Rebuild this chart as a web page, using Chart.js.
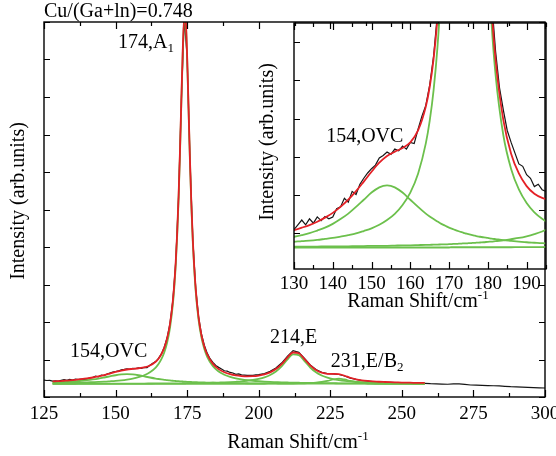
<!DOCTYPE html>
<html>
<head>
<meta charset="utf-8">
<script src="https://cdn.jsdelivr.net/npm/chart.js@4.4.1/dist/chart.umd.min.js"></script>
<style>
html, body { margin: 0; padding: 0; background: #fff; }
#wrap { position: relative; width: 556px; height: 456px; }
canvas { position: absolute; left: 0; top: 0; }
</style>
</head>
<body>
<div id="wrap">
  <canvas id="mainChart" width="556" height="456"></canvas>
  <canvas id="insetChart" width="556" height="456"></canvas>
</div>
<script>
// measured spectrum (black)
const rawX = [125,126,127,128,129,130,131,132,133,134,135,136,137,138,139,140,141,142,143,144,145,146,147,148,149,150,
  151,152,153,154,155,156,157,158,159,160,161,162,163,164,165,166,167,168,169,170,171,172,173,174,175,176,177,178,179,180,
  181,182,183,184,185,186,187,188,189,190,191,192,193,194,195,196,197,198,199,200,
  202,204,206,208,210,212,214,216,218,220,222,224,226,228,230,232,234,236,238,240,242,244,246,248,250,
  252,254,256,258,260,262,264,266,268,270,272,274,276,278,280,282,284,286,288,290,292,294,296,298,300];
const rawY = [0.450,0.440,0.445,0.425,0.430,0.425,0.445,0.465,0.445,0.470,0.452,0.478,0.462,0.480,0.470,0.478,0.512,0.520,0.556,0.540,0.585,0.572,0.615,0.640,0.662,0.680,
  0.695,0.725,0.735,0.750,0.740,0.762,0.755,0.775,0.762,0.790,0.785,0.845,0.900,0.945,1.030,1.150,1.330,1.580,1.960,2.580,3.580,5.320,7.950,10.10,9.060,6.300,4.180,2.900,2.140,1.680,
  1.380,1.170,1.020,0.925,0.840,0.790,0.745,0.700,0.690,0.655,0.640,0.605,0.615,0.592,0.585,0.575,0.580,0.575,0.590,0.595,
  0.625,0.685,0.775,0.905,1.085,1.235,1.190,1.030,0.855,0.735,0.660,0.625,0.615,0.600,0.560,0.505,0.470,0.440,0.425,0.410,0.405,0.395,0.390,0.385,0.380,
  0.378,0.372,0.370,0.365,0.355,0.350,0.345,0.340,0.348,0.352,0.338,0.320,0.315,0.310,0.305,0.300,0.295,0.285,0.275,0.270,0.265,0.258,0.250,0.245,0.240];

// fitted curves (red = sum, green = single peaks on the baseline)
const fitX = [128,130,132,134,136,138,140,142,144,146,148,150,152,154,156,158,160,162,164,
  165,166,167,168,169,170,
  170.5,171,171.5,172,172.5,173,173.5,174,174.5,175,175.5,176,176.5,177,
  178,179,180,181,182,
  184,186,188,190,192,194,196,198,200,202,204,206,208,210,212,214,216,218,220,222,224,226,228,230,232,234,236,238,240,242,244,246,248,250,252,254,256,258];
const fitSum = [0.416,0.423,0.433,0.444,0.458,0.475,0.495,0.520,0.550,0.586,0.626,0.667,0.705,0.733,0.751,0.767,0.790,0.840,0.940,
  1.022,1.139,1.309,1.559,1.942,2.558,
  3.004,3.587,4.349,5.337,6.571,7.986,9.330,10.148,10.046,9.085,7.683,6.292,5.100,4.160,
  2.877,2.116,1.647,1.343,1.135,
  0.883,0.743,0.660,0.607,0.575,0.558,0.551,0.554,0.571,0.602,0.657,0.744,0.876,1.050,1.187,1.167,1.010,0.843,0.721,0.650,0.619,0.617,0.611,0.567,0.513,0.473,0.446,0.429,0.417,0.407,0.400,0.394,0.390,0.386,0.383,0.379,0.377,0.375];
const peakOVC = [0.390,0.395,0.402,0.410,0.421,0.433,0.449,0.469,0.492,0.520,0.550,0.580,0.602,0.610,0.602,0.580,0.550,0.520,0.492,
  0.480,0.469,0.459,0.449,0.441,0.433,
  0.430,0.427,0.424,0.421,0.418,0.415,0.413,0.410,0.408,0.406,0.404,0.402,0.400,0.398,
  0.395,0.392,0.390,0.387,0.385,
  0.381,0.378,0.375,0.372,0.370,0.368,0.367,0.365,0.364,0.363,0.362,0.361,0.360,0.360,0.359,0.359,0.358,0.358,0.357,0.357,0.356,0.356,0.356,0.355,0.355,0.355,0.355,0.354,0.354,0.354,0.354,0.354,0.354,0.353,0.353,0.353,0.353,0.353];
const peakA1 = [0.372,0.374,0.377,0.379,0.382,0.386,0.390,0.396,0.402,0.409,0.419,0.430,0.445,0.465,0.491,0.528,0.580,0.659,0.786,
  0.880,1.008,1.188,1.446,1.837,2.460,
  2.909,3.495,4.260,5.250,6.486,7.903,9.250,10.070,9.970,9.010,7.610,6.220,5.030,4.090,
  2.810,2.051,1.583,1.279,1.072,
  0.820,0.679,0.593,0.536,0.497,0.470,0.449,0.433,0.421,0.411,0.403,0.397,0.391,0.387,0.383,0.380,0.377,0.375,0.373,0.371,0.369,0.368,0.366,0.365,0.364,0.363,0.362,0.362,0.361,0.360,0.360,0.359,0.359,0.358,0.358,0.357,0.357,0.357];
const peakE = [0.354,0.354,0.354,0.354,0.354,0.355,0.355,0.355,0.355,0.356,0.356,0.357,0.357,0.357,0.358,0.359,0.359,0.360,0.361,
  0.361,0.362,0.362,0.363,0.363,0.364,
  0.364,0.365,0.365,0.365,0.366,0.366,0.367,0.367,0.367,0.368,0.368,0.369,0.369,0.370,
  0.371,0.372,0.374,0.375,0.377,
  0.380,0.385,0.390,0.397,0.406,0.417,0.433,0.453,0.483,0.524,0.587,0.681,0.818,0.995,1.135,1.116,0.958,0.787,0.658,0.572,0.515,0.476,0.449,0.429,0.415,0.404,0.396,0.389,0.384,0.379,0.376,0.373,0.370,0.368,0.367,0.365,0.364,0.363];
const peakEB2 = [0.350,0.350,0.350,0.350,0.350,0.350,0.350,0.350,0.350,0.350,0.350,0.350,0.350,0.350,0.350,0.350,0.350,0.350,0.350,
  0.350,0.350,0.350,0.350,0.350,0.350,
  0.351,0.351,0.351,0.351,0.351,0.351,0.351,0.351,0.351,0.351,0.351,0.351,0.351,0.351,
  0.351,0.351,0.351,0.351,0.351,
  0.351,0.351,0.352,0.352,0.352,0.352,0.353,0.353,0.354,0.354,0.355,0.356,0.357,0.358,0.360,0.363,0.367,0.374,0.384,0.400,0.428,0.467,0.490,0.467,0.428,0.400,0.384,0.374,0.367,0.363,0.360,0.358,0.357,0.356,0.355,0.354,0.354,0.353];

// tick marks of the inset y axis (no labels)
const insetYTicks = [0.41, 0.57, 0.73, 0.89, 1.05, 1.21];

// peak labels
const mainLabels = [
  {parts: [{t: '174,A'}, {t: '1', sub: true}], x: 150.85, y: 9.31},
  {parts: [{t: '154,OVC'}], x: 134.1, y: 1.07},
  {parts: [{t: '214,E'}], x: 203.9, y: 1.44},
  {parts: [{t: '231,E/B'}, {t: '2', sub: true}], x: 225.2, y: 0.8}
];
const insetLabels = [
  {parts: [{t: '154,OVC'}], x: 138.3, y: 0.79}
];

const serif = '"Liberation Serif", "Times New Roman", serif';
const RED = 'rgb(228, 32, 38)';
const GREEN = 'rgb(108, 192, 76)';
Chart.defaults.font.family = serif;
Chart.defaults.color = '#000';

function series(xs, ys) {
  return xs.map((x, i) => ({x: x, y: ys[i]}));
}

function buildDatasets() {
  const curve = {pointRadius: 0, borderWidth: 1.8, cubicInterpolationMode: 'monotone', fill: false};
  return [
    Object.assign({label: 'fit', data: series(fitX, fitSum), borderColor: RED, order: 1}, curve),
    Object.assign({label: '154 OVC', data: series(fitX, peakOVC), borderColor: GREEN, order: 2}, curve),
    Object.assign({label: '174 A1', data: series(fitX, peakA1), borderColor: GREEN, order: 2}, curve),
    Object.assign({label: '214 E', data: series(fitX, peakE), borderColor: GREEN, order: 2}, curve),
    Object.assign({label: '231 E/B2', data: series(fitX, peakEB2), borderColor: GREEN, order: 2}, curve),
    {label: 'measured', data: series(rawX, rawY), borderColor: '#151515', borderWidth: 1.2,
      pointRadius: 0, tension: 0, fill: false, order: 3}
  ];
}

function measure(ctx, parts, size) {
  let w = 0;
  parts.forEach(p => {
    ctx.font = ((p.sub || p.sup) ? Math.round(size * 0.65) : size) + 'px ' + serif;
    w += ctx.measureText(p.t).width;
  });
  return w;
}

function richText(ctx, parts, x, y, size) {
  let cx = x;
  ctx.textBaseline = 'alphabetic';
  ctx.textAlign = 'left';
  parts.forEach(p => {
    const small = p.sub || p.sup;
    ctx.font = (small ? Math.round(size * 0.65) : size) + 'px ' + serif;
    const dy = p.sub ? size * 0.2 : (p.sup ? -size * 0.4 : 0);
    ctx.fillText(p.t, cx, y + dy);
    cx += ctx.measureText(p.t).width;
  });
}

// frame, inward ticks, titles and peak labels
function decor(cfg) {
  return {
    id: 'decor',
    afterDraw(chart) {
      const ctx = chart.ctx;
      const a = chart.chartArea;
      const xs = chart.scales.x, ys = chart.scales.y;
      ctx.save();
      ctx.strokeStyle = '#000';
      ctx.lineWidth = 1.4;
      ctx.strokeRect(a.left, a.top, a.right - a.left, a.bottom - a.top);
      ctx.lineWidth = 1.2;
      ctx.beginPath();
      xs.ticks.forEach(t => {
        const px = Math.round(xs.getPixelForValue(t.value)) + 0.5;
        const len = (t.value % cfg.xMajor === 0) ? 7 : 4;
        ctx.moveTo(px, a.bottom); ctx.lineTo(px, a.bottom - len);
        ctx.moveTo(px, a.top); ctx.lineTo(px, a.top + len);
      });
      ys.ticks.forEach(t => {
        const py = Math.round(ys.getPixelForValue(t.value)) + 0.5;
        ctx.moveTo(a.left, py); ctx.lineTo(a.left + 6, py);
        if (cfg.rightTicks) { ctx.moveTo(a.right, py); ctx.lineTo(a.right - 6, py); }
      });
      ctx.stroke();

      ctx.fillStyle = '#000';
      if (cfg.topTitle) richText(ctx, [{t: cfg.topTitle}], a.left, 17, 20);

      const xt = [{t: 'Raman Shift/cm'}, {t: '-1', sup: true}];
      richText(ctx, xt, cfg.xTitleX - measure(ctx, xt, 20) / 2, cfg.xTitleY, 20);

      ctx.save();
      ctx.translate(cfg.yTitleX, cfg.yTitleY);
      ctx.rotate(-Math.PI / 2);
      ctx.font = '20px ' + serif;
      ctx.textAlign = 'center';
      ctx.textBaseline = 'middle';
      ctx.fillText('Intensity (arb.units)', 0, 0);
      ctx.restore();

      cfg.labels.forEach(l => {
        richText(ctx, l.parts, xs.getPixelForValue(l.x), ys.getPixelForValue(l.y), 20);
      });
      ctx.restore();
    }
  };
}

function makeChart(id, o) {
  return new Chart(document.getElementById(id), {
    type: 'line',
    data: {datasets: buildDatasets()},
    options: {
      responsive: false,
      animation: false,
      devicePixelRatio: 1,
      layout: {padding: o.padding},
      plugins: {legend: {display: false}, tooltip: {enabled: false}},
      scales: {
        x: {
          type: 'linear', min: o.xMin, max: o.xMax,
          grid: {display: false, drawTicks: false},
          border: {display: false},
          ticks: {
            stepSize: o.xStep, autoSkip: false, maxRotation: 0, padding: o.tickPad,
            font: {size: 19}, color: '#000',
            callback: v => (v % o.xMajor === 0 ? v : '')
          },
          afterFit: s => { s.height = o.xHeight; s.paddingLeft = 0; s.paddingRight = 0; }
        },
        y: {
          type: 'linear', min: o.yMin, max: o.yMax,
          grid: {display: false, drawTicks: false},
          border: {display: false},
          ticks: {display: false, stepSize: o.yStep},
          afterBuildTicks: o.yTicks ? (s => { s.ticks = o.yTicks.map(v => ({value: v})); }) : undefined,
          afterFit: s => { s.width = o.yWidth; s.paddingTop = 0; s.paddingBottom = 0; }
        }
      }
    },
    plugins: [decor(o.decor)]
  });
}

var mainChart = makeChart('mainChart', {
  padding: {left: 0, right: 11, top: 22, bottom: 0},
  xMin: 125, xMax: 300, xStep: 12.5, xMajor: 25, tickPad: 6,
  yMin: 0, yMax: 10, yStep: 1,
  xHeight: 59, yWidth: 44,
  decor: {xMajor: 25, rightTicks: true, topTitle: 'Cu/(Ga+ln)=0.748',
    xTitleX: 298, xTitleY: 448, yTitleX: 19, yTitleY: 201, labels: mainLabels}
});

var insetChart = makeChart('insetChart', {
  padding: {left: 0, right: 10, top: 23, bottom: 0},
  xMin: 130, xMax: 195, xStep: 5, xMajor: 10, tickPad: 4,
  yMin: 0.26, yMax: 1.29, yTicks: insetYTicks,
  xHeight: 187, yWidth: 294,
  decor: {xMajor: 10, rightTicks: false,
    xTitleX: 418, xTitleY: 307, yTitleX: 268, yTitleY: 142, labels: insetLabels}
});
</script>
</body>
</html>
